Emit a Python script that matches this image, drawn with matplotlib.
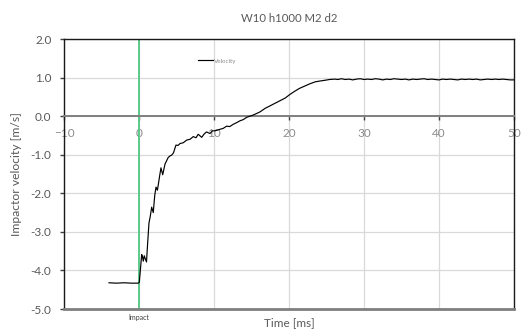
import matplotlib
matplotlib.use("Agg")
import matplotlib.pyplot as plt

plt.rcParams['font.family'] = ['Lato', 'DejaVu Sans']

title = "W10 h1000 M2 d2"
x_label = "Time [ms]"
y_label = "Impactor velocity [m/s]"
series_name = "Velocity"
impact_time = 0.0
impact_label = "Impact"

x_ticks = [-10, 0, 10, 20, 30, 40, 50]
y_ticks = [-5.0, -4.0, -3.0, -2.0, -1.0, 0.0, 1.0, 2.0]

# Impactor velocity record (ms, m/s)
time_ms = [
    -4.0, -3.0, -2.0, -1.0, -0.1,
    0.04, 0.2, 0.36, 0.47, 0.57, 0.7, 0.84, 1.0, 1.15, 1.33, 1.5, 1.69, 1.9,
    2.1, 2.27, 2.45, 2.57, 2.75, 2.93, 3.16, 3.47, 3.7, 3.9, 4.15, 4.36, 4.6,
    4.93, 5.2, 5.47, 5.9, 6.36, 6.8, 7.24, 7.6, 7.9, 8.36, 8.7, 9.0, 9.47,
    9.8, 10.13, 10.5, 10.8, 11.2, 11.69, 12.1, 12.58, 13.0, 13.47, 13.9,
    14.36, 14.8, 15.24, 15.7, 16.13, 16.8, 17.4, 18.1, 18.8, 19.5, 20.1,
    20.8, 21.4, 22.1, 22.8, 23.5, 24.1, 24.8, 25.4, 26.1,
    26.5, 27.0, 27.5, 28.0, 28.5, 29.0, 29.5, 30.0, 30.5, 31.0, 31.5, 32.0,
    32.5, 33.0, 33.5, 34.0, 34.5, 35.0, 35.5, 36.0, 36.5, 37.0, 37.5, 38.0,
    38.5, 39.0, 39.5, 40.0, 40.5, 41.0, 41.5, 42.0, 42.5, 43.0, 43.5, 44.0,
    44.5, 45.0, 45.5, 46.0, 46.5, 47.0, 47.5, 48.0, 48.5, 49.0, 49.5, 50.0,
]
velocity = [
    -4.32, -4.33, -4.32, -4.33, -4.33,
    -4.31, -3.95, -3.59, -3.65, -3.76, -3.62, -3.70, -3.78, -3.30, -2.77,
    -2.60, -2.36, -2.50, -2.05, -1.84, -1.92, -1.78, -1.55, -1.34, -1.52,
    -1.24, -1.15, -1.07, -1.03, -1.01, -0.95, -0.75, -0.76, -0.71, -0.69,
    -0.62, -0.60, -0.53, -0.56, -0.47, -0.55, -0.46, -0.41, -0.45, -0.38,
    -0.38, -0.36, -0.34, -0.32, -0.26, -0.27, -0.21, -0.17, -0.12, -0.09,
    -0.03, 0.00, 0.03, 0.07, 0.11, 0.20, 0.26, 0.33, 0.40, 0.47, 0.56,
    0.65, 0.72, 0.78, 0.84, 0.89, 0.91, 0.93, 0.95, 0.96,
    0.95, 0.97, 0.95, 0.96, 0.94, 0.96, 0.97, 0.95, 0.96, 0.95, 0.97, 0.96,
    0.94, 0.96, 0.95, 0.97, 0.96, 0.95, 0.96, 0.94, 0.96, 0.95, 0.96, 0.97,
    0.95, 0.96, 0.95, 0.94, 0.96, 0.95, 0.96, 0.95, 0.94, 0.96, 0.95, 0.96,
    0.95, 0.96, 0.94, 0.95, 0.96, 0.95, 0.96, 0.95, 0.96, 0.95, 0.94, 0.94,
]

fig = plt.figure(figsize=(5.30, 3.34), dpi=100)
ax = fig.add_axes([64 / 530, 1 - 309 / 334, 450 / 530, 270 / 334])

ax.set_xlim(x_ticks[0], x_ticks[-1])
ax.set_ylim(y_ticks[0], y_ticks[-1])
ax.set_xticks(x_ticks)
ax.set_yticks(y_ticks)
ax.set_yticklabels([f"{v:.1f}" for v in y_ticks])

ax.grid(True, color="#d9d9d9", linewidth=0.9)
ax.set_axisbelow(True)

# horizontal axis crosses at zero
ax.spines['bottom'].set_position(('data', 0.0))
ax.spines['bottom'].set_color("#7f7f7f")
ax.spines['bottom'].set_linewidth(1.4)
for side in ('left', 'top', 'right'):
    ax.spines[side].set_color("#1a1a1a")
    ax.spines[side].set_linewidth(1.0)
ax.axhline(y_ticks[0], color="#7f7f7f", linewidth=2.0, zorder=3, clip_on=False)

ax.tick_params(axis='x', direction='out', length=3, width=1.0, color="#404040",
               labelsize=8.5, labelcolor="#8c8c8c", pad=5.5)
ax.tick_params(axis='y', direction='out', length=3, width=1.0, color="#404040",
               labelsize=8.5, labelcolor="#595959", pad=6)

ax.axvline(impact_time, color="#5cc98a", linewidth=1.4, zorder=2)
ax.plot(time_ms, velocity, color="black", linewidth=0.85, label=series_name, zorder=4)

ax.text(impact_time, -5.12, impact_label, ha='center', va='top', fontsize=5,
        color="#404040")

leg = ax.legend(loc='upper left', bbox_to_anchor=(0.285, 0.95), frameon=False,
                fontsize=4.5, handlelength=2.4, handletextpad=0.2, labelcolor="#8c8c8c")

fig.text((64 + 514) / 2 / 530, 1 - 18 / 334, title, ha='center', va='center',
         fontsize=8.2, color="#595959")
fig.text(289 / 530, 1 - 323 / 334, x_label, ha='center', va='center',
         fontsize=8.5, color="#595959")
fig.text(17 / 530, 1 - 174 / 334, y_label, ha='center', va='center',
         rotation=90, fontsize=8.7, color="#595959")

fig.savefig("out.png", dpi=100)
